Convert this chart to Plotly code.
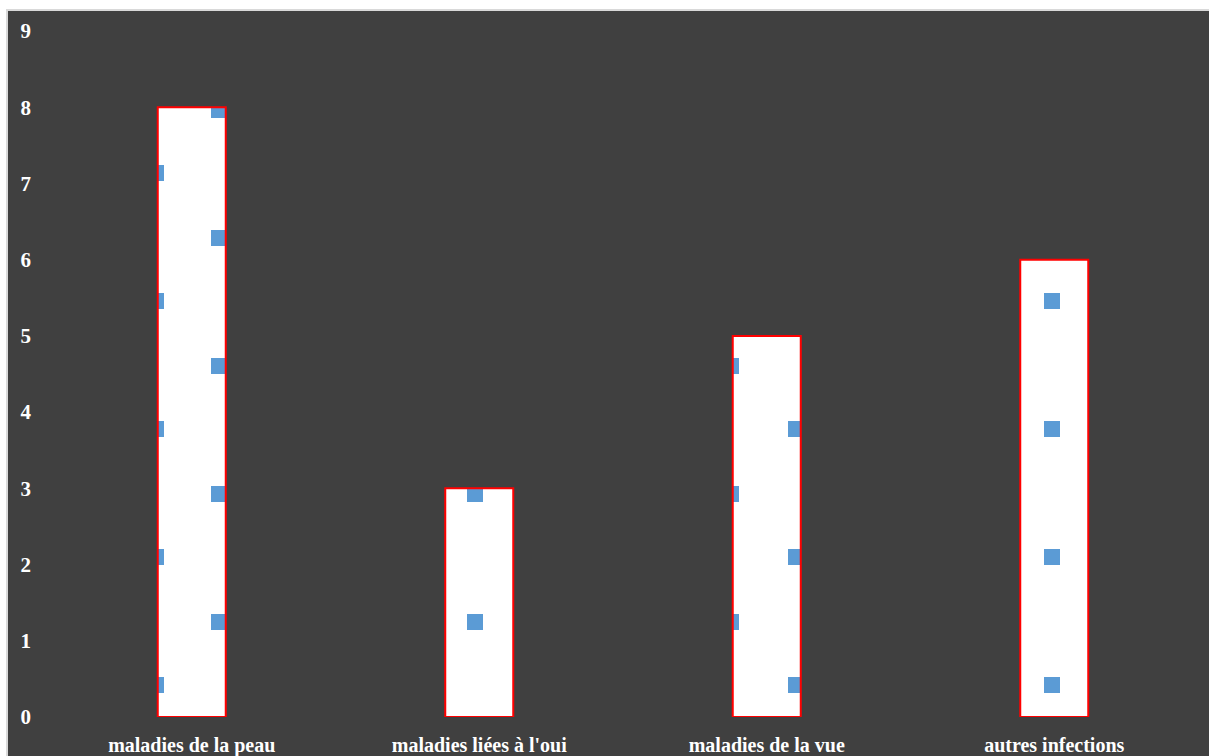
import plotly.graph_objects as go

categories = ["maladies de la peau", "maladies liées à l'oui", "maladies de la vue", "autres infections"]
values = [8, 3, 5, 6]
y_ticks = [0, 1, 2, 3, 4, 5, 6, 7, 8, 9]

W, H = 1209, 756
ML, MR, MT, MB = 48, 11, 31, 39
pw = W - ML - MR
ph = H - MT - MB

font_fam = "Liberation Serif"

fig = go.Figure()
fig.add_trace(go.Bar(
    x=categories,
    y=values,
    marker=dict(
        color="white",
        line=dict(color="#ff0000", width=2),
        pattern=dict(
            path="M35,71h16v16h-16z M100,6h16v16h-16z",
            size=128,
            fgcolor="#5b9bd5",
            bgcolor="white",
            fgopacity=1,
        ),
    ),
    hoverinfo="skip",
))

# figure frame (dark area with light grey border)
fig.add_shape(
    type="rect", xref="paper", yref="paper", layer="below",
    x0=(7 - ML) / pw, x1=(W + 4 - ML) / pw,
    y0=-(H + 4 - (H - MB)) / ph, y1=((H - MB) - 10) / ph,
    fillcolor="#404040", line=dict(color="#d9d9d9", width=2),
)

fig.update_layout(
    width=W, height=H,
    margin=dict(l=ML, r=MR, t=MT, b=MB, pad=0, autoexpand=False),
    paper_bgcolor="white",
    plot_bgcolor="#404040",
    bargap=1 - 68 / 287.5,
    showlegend=False,
    font=dict(family=font_fam, color="white", size=20),
)
fig.update_xaxes(
    showgrid=False, showline=False, zeroline=False, ticks="", automargin=False,
    tickfont=dict(family=font_fam, size=20, color="white", weight="bold"),
    ticklabelstandoff=14,
)
fig.update_yaxes(
    range=[0, 9], tickvals=y_ticks, showgrid=False, showline=False, zeroline=False,
    ticks="", automargin=False,
    tickfont=dict(family=font_fam, size=21, color="white", weight="bold"),
    ticklabelstandoff=16,
)

fig.write_html("out.html")
